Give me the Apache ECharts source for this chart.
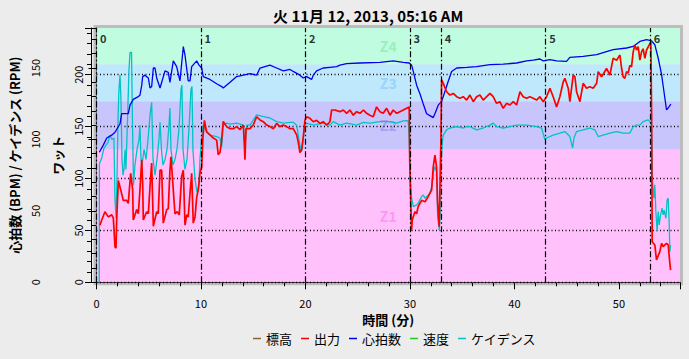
<!DOCTYPE html>
<html><head><meta charset="utf-8">
<script src="https://cdn.jsdelivr.net/npm/echarts@6/dist/echarts.min.js"></script>
<style>html,body{margin:0;padding:0;background:#ececec}#c{width:689px;height:359px}</style>
</head><body><div id="c"></div>
<script>
const titleText = '火 11月 12, 2013, 05:16 AM';
const legendNames = ['標高', '出力', '心拍数', '速度', 'ケイデンス'];
const intervalStarts = [0, 10, 20, 30, 33, 43, 53];
const intervalLabels = ['0', '1', '2', '3', '4', '5', '6'];
const zoneNames = ['Z1', 'Z2', 'Z3', 'Z4'];
const zoneBounds = [0, 128, 174.5, 210, 245];
const xMax = 55.85, hrMax = 178, wattsMax = 245;

// [minutes, watts]
const power = [[0.33,55],[0.50,60],[0.81,68],[1.13,63],[1.45,65],[1.61,62],[1.77,34],[1.87,33],[1.93,60],[2.09,98],[2.32,89],[2.56,79],[2.89,79],[3.04,76],[3.27,105],[3.46,89],[3.52,60],[3.85,70],[4.00,66],[4.16,89],[4.33,118],[4.42,95],[4.48,60],[4.80,68],[4.96,66],[5.12,92],[5.28,115],[5.44,54],[5.76,68],[5.91,66],[6.08,108],[6.24,108],[6.39,57],[6.72,70],[6.87,71],[7.03,108],[7.13,121],[7.35,89],[7.51,66],[7.73,68],[7.92,65],[8.15,102],[8.31,108],[8.47,55],[8.64,65],[8.78,63],[8.95,86],[9.11,105],[9.26,57],[9.43,63],[9.59,82],[9.74,89],[9.90,105],[10.07,111],[10.19,140],[10.33,156],[10.54,145],[10.86,142],[11.18,139],[11.50,137],[11.65,123],[11.82,125],[11.96,135],[12.13,155],[12.46,150],[12.78,148],[13.09,148],[13.42,150],[13.73,147],[14.05,151.5],[14.14,135],[14.21,118],[14.31,148],[14.69,148],[15.00,151.5],[15.33,159.5],[15.65,156.4],[15.96,154.7],[16.29,151.5],[16.60,150],[16.92,148],[17.24,153],[17.56,150],[17.88,151.5],[18.20,150],[18.52,148],[18.83,148],[19.16,142],[19.31,135],[19.47,125],[19.64,128],[19.79,140],[19.95,156],[20.11,159.5],[20.43,158],[20.75,154.7],[21.07,156],[21.39,153],[21.70,154.7],[22.03,151.5],[22.34,154.7],[22.51,166],[22.82,166],[23.30,164.4],[23.62,166],[23.94,162.8],[24.26,166],[24.58,161],[24.90,164.4],[25.22,162.8],[25.55,166],[25.86,162.8],[26.17,161],[26.49,159.5],[26.81,169],[27.13,164.4],[27.44,162.8],[27.77,167.6],[28.09,161],[28.40,166],[28.73,162.8],[29.04,164.4],[29.36,166],[29.68,167.6],[29.93,169],[29.98,118],[30.03,95],[30.16,50],[30.22,60],[30.48,68],[30.64,66],[30.79,73],[31.12,79],[31.44,77.6],[31.75,82.5],[32.08,89],[32.23,111],[32.39,122.6],[32.55,111],[32.65,76],[32.80,53.6],[32.90,105],[32.97,137],[33.03,195],[33.19,191.7],[33.51,183.6],[33.83,180.4],[34.15,182],[34.47,178.8],[34.78,177.3],[35.10,178.8],[35.43,175.6],[35.74,180.4],[36.06,174],[36.38,178.8],[36.70,180.4],[37.01,175.6],[37.66,182],[37.97,178.8],[38.29,172.4],[38.61,174],[38.93,167.6],[39.25,172.4],[39.57,170.8],[39.89,174],[40.21,170.8],[40.53,183.6],[40.84,178.8],[41.17,177.3],[41.48,178.8],[41.80,177.3],[42.12,175.6],[42.44,178.8],[42.76,174],[43.08,178.8],[43.40,187],[43.71,178.8],[44.04,169],[44.35,178.8],[44.67,193],[44.83,196.5],[45.15,187],[45.31,174],[45.63,199.7],[45.79,198],[45.95,183.6],[46.27,174],[46.58,191.7],[46.91,187],[47.22,188.4],[47.54,186.9],[47.87,191.7],[48.02,202.9],[48.34,198],[48.49,200.5],[48.82,206],[49.14,199.7],[49.45,215.8],[49.78,214],[50.10,219],[50.26,206],[50.41,198],[50.57,196.5],[50.74,203],[50.89,201.5],[51.05,209],[51.21,207.5],[51.37,222],[51.53,228.6],[51.69,223.8],[51.85,227],[52.01,214],[52.17,222],[52.32,225],[52.49,215.8],[52.65,223.8],[52.97,230],[53.06,231.6],[53.13,164],[53.16,100],[53.19,39],[53.44,36],[53.60,21.5],[53.92,29.5],[54.09,37.6],[54.24,34.3],[54.40,36],[54.56,37.6],[54.72,36],[54.88,18.3],[54.95,11.8]];

// [minutes, bpm]
const heartRate = [[0.27,91],[0.65,96],[0.98,101],[1.45,103],[1.77,105],[2.25,111],[2.41,118],[3.04,118],[3.21,124],[3.52,128],[4.00,130],[4.16,131],[4.33,138],[4.42,144],[4.64,145],[4.96,143],[5.12,136],[5.28,137],[5.44,150],[5.60,150],[5.76,143],[6.08,136],[6.24,140],[6.56,148],[6.87,147],[7.03,140],[7.35,155],[7.67,151],[7.99,141],[8.31,165],[8.47,159],[8.78,141],[8.95,141],[9.11,151],[9.59,155],[9.81,152],[10.07,150],[10.22,144],[10.86,142],[11.50,139],[11.98,137],[12.13,136],[12.78,140],[13.42,144],[14.69,146],[15.33,145],[15.65,150],[16.60,152],[17.24,150],[17.88,148],[18.52,149],[18.83,147.6],[19.47,145],[19.79,143],[20.11,144],[20.59,142],[20.75,145],[21.07,148],[21.70,150],[22.34,150.5],[22.99,151],[23.30,152],[23.94,153],[25.22,153.5],[27.13,154],[28.40,155],[29.36,154],[29.93,153.5],[30.16,152],[30.32,147.6],[30.64,138],[30.96,132],[31.27,125],[31.60,118],[31.91,116.7],[32.23,115.3],[32.39,118],[32.71,124],[33.03,126.6],[33.35,133.6],[33.66,140.6],[33.99,147.6],[34.47,150],[35.43,150.4],[36.38,151],[37.66,152.3],[38.93,152.7],[40.21,153.5],[41.17,155],[41.80,155.5],[42.44,156.3],[42.76,155],[43.40,155.8],[44.04,155],[44.99,154.6],[45.31,157.4],[46.58,158.1],[47.87,159.3],[49.45,162.8],[50.74,164],[51.37,165.1],[52.01,168.6],[52.65,169.8],[53.13,169],[53.44,166.3],[53.76,157],[54.09,145.3],[54.40,129],[54.56,120.7],[54.72,122],[54.97,124.7]];

// [minutes, rpm]
const cadence = [[0.26,0],[0.28,83],[0.50,87],[0.72,94],[1.10,98],[1.29,103],[1.48,100],[1.67,101],[1.77,58],[1.87,45],[1.96,72],[2.06,114],[2.15,135],[2.25,145],[2.34,128],[2.44,86],[2.54,75],[2.63,79],[2.73,93],[2.82,79],[2.97,114],[3.11,149],[3.21,161],[3.35,161],[3.44,114],[3.54,68],[3.68,82],[3.88,93],[4.07,100],[4.16,110],[4.26,86],[4.35,82],[4.55,93],[4.74,86],[4.93,100],[5.12,117],[5.28,126],[5.41,86],[5.60,75],[5.79,86],[5.98,100],[6.08,112],[6.22,93],[6.36,82],[6.56,86],[6.75,93],[6.94,110],[7.03,122],[7.13,93],[7.32,82],[7.51,86],[7.70,93],[7.89,107],[8.09,135],[8.18,138],[8.28,93],[8.47,79],[8.66,86],[8.85,107],[9.04,135],[9.14,137],[9.23,93],[9.43,72],[9.62,63],[9.81,68],[9.90,86],[10.05,100],[10.22,110],[10.54,105.5],[10.86,103],[11.50,102],[11.82,101],[11.98,95],[12.13,110],[12.46,111.4],[12.78,110.7],[13.42,111.4],[14.05,110],[14.21,95],[14.37,110],[14.69,110],[15.33,117.2],[15.96,116],[16.60,115],[17.24,112.5],[17.88,111.4],[18.52,112],[18.83,112],[19.16,110],[19.47,96],[19.64,91.5],[19.95,110],[20.11,111.4],[20.75,110],[21.70,111.4],[22.34,110],[22.66,112.5],[23.30,110],[23.94,111.4],[24.90,110],[25.55,112],[26.17,111.4],[27.13,112.5],[28.09,112.5],[28.73,111.4],[29.36,113],[29.84,113.2],[29.93,99.7],[30.07,67],[30.16,58.9],[30.32,53],[30.64,54.2],[30.79,55.4],[31.12,60],[31.27,61.2],[31.44,58.9],[31.60,60],[31.91,62.4],[32.08,67],[32.23,76.4],[32.39,81],[32.55,77.5],[32.65,46],[32.80,36.6],[32.90,46],[33.03,88],[33.12,99.7],[33.19,103],[33.51,106.7],[33.83,108],[34.47,109],[35.10,108],[35.43,109],[35.74,109],[36.38,106.7],[37.01,108],[37.66,110],[37.97,111.4],[38.29,109],[38.93,108],[39.57,109],[40.21,110],[41.17,110],[42.12,109],[42.60,108],[42.92,99.7],[43.08,101],[43.71,103],[44.35,104.4],[44.83,105.5],[45.31,102],[45.57,94],[45.70,101],[45.95,105.5],[46.58,106.7],[47.22,108],[47.70,106.7],[48.02,102],[48.49,103],[49.14,104.4],[49.78,105.5],[50.41,104.4],[51.05,104.4],[51.37,109],[51.69,110],[52.01,110],[52.32,112.5],[52.80,113.7],[52.97,112.5],[53.13,110],[53.19,86.9],[53.22,70.5],[53.35,58.9],[53.44,68.2],[53.54,49.5],[53.66,35.5],[53.76,49.5],[53.86,40.2],[53.99,47.2],[54.14,51.9],[54.24,47.2],[54.33,50.5],[54.50,44.8],[54.62,57.7],[54.72,58.9],[54.81,42.5],[54.88,21.4],[54.95,26]];

const elevation = [];
const speed = [];

const FONT = "'Noto Sans CJK JP', 'DejaVu Sans', sans-serif";
const zoneColors = ['#ffc0fc', '#c8c4fc', '#c0e8fc', '#c0fce0'];
const zoneLabelColors = ['#ff96f4', '#a9a0f4', '#98d4fc', '#98f0bc'];

const chart = echarts.init(document.getElementById('c'), null, {renderer: 'svg'});
const option = {
  backgroundColor: '#ececec',
  animation: false,
  textStyle: {fontFamily: FONT},
  title: {text: titleText, left: 268, top: 3, textStyle: {fontSize: 15, fontWeight: 'bold', color: '#000', fontFamily: FONT}},
  graphic: [{type: 'rect', silent: true, z: 0, shape: {x: 95, y: 26.5, width: 586.5, height: 257.3}, style: {fill: 'none', stroke: '#bdbdbd', lineWidth: 3}}],
  grid: {left: 96.5, top: 28, width: 583.5, height: 254.3},
  legend: {
    data: legendNames, left: 248, top: 327, icon: 'rect', itemWidth: 8, itemHeight: 1.5, itemGap: 9,
    textStyle: {fontSize: 13, color: '#000', fontFamily: FONT}
  },
  xAxis: {
    type: 'value', min: 0, max: xMax, interval: 10, offset: 5,
    name: '時間 (分)', nameLocation: 'middle', nameGap: 24,
    nameTextStyle: {fontSize: 13, fontWeight: 'bold', color: '#000', fontFamily: FONT},
    axisLine: {lineStyle: {color: '#000', width: 1}},
    axisTick: {length: 7, lineStyle: {color: '#000'}},
    minorTick: {show: true, splitNumber: 5, length: 4, lineStyle: {color: '#000'}},
    axisLabel: {fontSize: 11, color: '#000', margin: 10, showMaxLabel: false},
    splitLine: {show: false}
  },
  yAxis: [
    {
      type: 'value', min: 0, max: hrMax, interval: 50, position: 'left', offset: 48.2,
      name: '心拍数 (BPM) / ケイデンス (RPM)', nameLocation: 'middle', nameGap: 24,
      nameTextStyle: {fontSize: 13, fontWeight: 'bold', color: '#000', fontFamily: FONT},
      axisLine: {show: true, lineStyle: {color: '#000', width: 1}},
      axisTick: {show: true, length: 8, lineStyle: {color: '#000'}},
      minorTick: {show: true, splitNumber: 5, length: 5, lineStyle: {color: '#000'}},
      axisLabel: {rotate: 90, margin: 8, fontSize: 11, color: '#000', showMaxLabel: false},
      splitLine: {show: false}
    },
    {
      type: 'value', min: 0, max: wattsMax, interval: 50, position: 'left', offset: 5.5, z: 2,
      name: 'ワット', nameLocation: 'middle', nameGap: 27,
      nameTextStyle: {fontSize: 13, fontWeight: 'bold', color: '#000', fontFamily: FONT},
      axisLine: {show: true, lineStyle: {color: '#000', width: 1}},
      axisTick: {show: true, length: 6, lineStyle: {color: '#000'}},
      minorTick: {show: true, splitNumber: 5, length: 4, lineStyle: {color: '#000'}},
      axisLabel: {rotate: 90, margin: 8, fontSize: 11, color: '#000', showMaxLabel: false},
      splitLine: {show: true, showMaxLine: false, lineStyle: {color: '#000', type: [1, 2.5], width: 1.3}}
    }
  ],
  series: [
    {
      name: 'zones', type: 'line', yAxisIndex: 1, z: 1, data: [], silent: true,
      markArea: {
        silent: true,
        label: {show: true, position: 'inside', fontSize: 14, fontWeight: 'bold', fontFamily: FONT},
        data: zoneNames.map((n, i) => [
          {name: n, yAxis: zoneBounds[i], itemStyle: {color: zoneColors[i]}, label: {color: zoneLabelColors[i]}},
          {yAxis: zoneBounds[i + 1]}
        ])
      }
    },
    {
      name: 'intervals', type: 'scatter', yAxisIndex: 1, z: 2, clip: false, silent: true,
      symbolSize: 0,
      data: intervalStarts.map(t => [t, wattsMax]),
      label: {show: true, position: [3.5, 4], formatter: p => intervalLabels[p.dataIndex], fontSize: 11, fontWeight: 'bold', color: '#000', fontFamily: FONT},
      markLine: {
        silent: true, symbol: 'none', label: {show: false},
        lineStyle: {color: '#000', type: [6, 2.5, 1.5, 2.5], width: 1.2},
        data: intervalStarts.map(t => ({xAxis: t}))
      }
    },
    {name: '標高', type: 'line', data: elevation, itemStyle: {color: '#8c6239'}, lineStyle: {color: '#8c6239'}},
    {name: '速度', type: 'line', data: speed, itemStyle: {color: '#22cc22'}, lineStyle: {color: '#22cc22'}},
    {name: 'ケイデンス', type: 'line', yAxisIndex: 0, z: 3, data: cadence, showSymbol: false, itemStyle: {color: '#00c4c4'}, lineStyle: {color: '#00c4c4', width: 1.3}},
    {name: '心拍数', type: 'line', yAxisIndex: 0, z: 3, data: heartRate, showSymbol: false, itemStyle: {color: '#0000ee'}, lineStyle: {color: '#0000ee', width: 1.3}},
    {name: '出力', type: 'line', yAxisIndex: 1, z: 3, data: power, showSymbol: false, itemStyle: {color: '#ff0000'}, lineStyle: {color: '#ff0000', width: 1.7}}
  ]
};
chart.setOption(option);
</script>
</body></html>
